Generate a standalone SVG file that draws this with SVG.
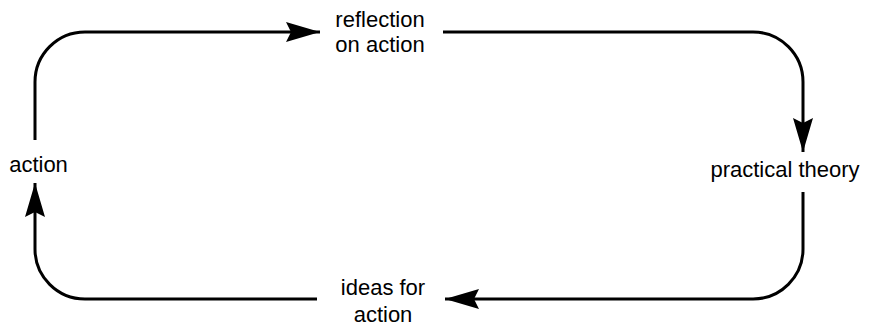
<svg xmlns="http://www.w3.org/2000/svg" width="871" height="328" viewBox="0 0 871 328">
<style>
.lbl{font-family:"Liberation Sans",Arial,sans-serif;font-size:22px;fill:#000;text-anchor:middle}
.con{fill:none;stroke:#000;stroke-width:3;stroke-linecap:butt}
</style>
<defs>
<marker id="ah" viewBox="-36 -12 38 24" markerWidth="38" markerHeight="24" refX="0" refY="0" orient="auto" markerUnits="userSpaceOnUse">
<path d="M0,0 L-34,-10 L-29,0 L-34,10 Z" fill="#000"/>
</marker>
</defs>
<rect width="871" height="328" fill="#fff"/>
<g id="connectors">
<path class="con" d="M35,140 V82 A50,50 0 0 1 85,32 H320" marker-end="url(#ah)"/>
<path class="con" d="M443,32 H753 A50,50 0 0 1 803,82 V152" marker-end="url(#ah)"/>
<path class="con" d="M803,192 V249 A50,50 0 0 1 753,299 H445" marker-end="url(#ah)"/>
<path class="con" d="M317,299 H85 A50,50 0 0 1 35,249 V183" marker-end="url(#ah)"/>
</g>
<g id="node-reflection">
<text class="lbl" x="380" y="27">reflection</text>
<text class="lbl" x="380" y="52">on action</text>
</g>
<g id="node-practical">
<text class="lbl" x="785" y="177">practical theory</text>
</g>
<g id="node-ideas">
<text class="lbl" x="383" y="295">ideas for</text>
<text class="lbl" x="383" y="322">action</text>
</g>
<g id="node-action">
<text class="lbl" x="38.5" y="172">action</text>
</g>
</svg>
